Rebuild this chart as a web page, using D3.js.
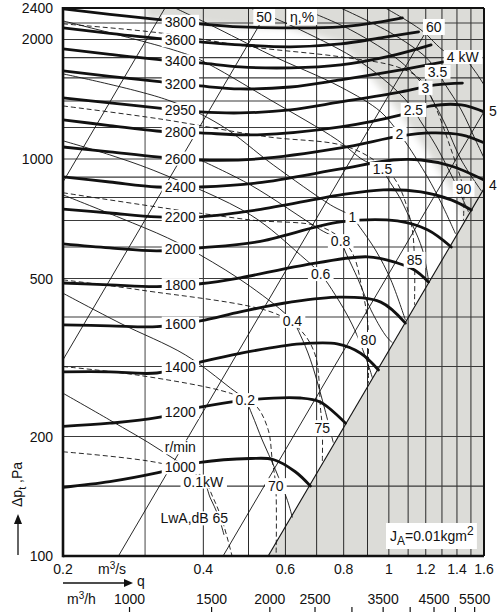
<!DOCTYPE html>
<html lang="en">
<head>
<meta charset="utf-8">
<script src="https://d3js.org/d3.v7.min.js"></script>
<style>
  body { margin: 0; background: #fff; }
  svg { display: block; font-family: "Liberation Sans", Arial, Helvetica, sans-serif; }
</style>
</head>
<body>
<svg id="chart" width="497" height="612"></svg>
<script>
// ---- data: [q m3/s, dp Pa] ----
const rpm3800 = [[0.2,2387],[0.252,2313],[0.318,2247],[0.394,2189],[0.48,2151],[0.615,2139],[0.788,2151],[0.961,2214],[1.069,2266]];
const rpm3600 = [[0.2,2139],[0.252,2071],[0.318,2012],[0.394,1972],[0.48,1938],[0.615,1916],[0.788,1949],[0.961,2018],[1.158,2090]];
const rpm3400 = [[0.2,1893],[0.252,1834],[0.318,1781],[0.394,1745],[0.48,1705],[0.615,1696],[0.788,1725],[1.01,1818],[1.232,1938]];
const rpm3200 = [[0.2,1666],[0.252,1614],[0.318,1568],[0.394,1527],[0.48,1501],[0.615,1518],[0.788,1582],[1.062,1676],[1.31,1755]];
const rpm2950 = [[0.2,1425],[0.252,1384],[0.318,1345],[0.394,1314],[0.48,1306],[0.615,1329],[0.788,1392],[1.062,1476],[1.259,1536],[1.438,1553]];
const rpm2800 = [[0.2,1254],[0.252,1214],[0.318,1176],[0.394,1163],[0.522,1150],[0.788,1204],[1.062,1291],[1.232,1360],[1.43,1368],[1.6,1314]];
const rpm2600 = [[0.2,1072],[0.252,1042],[0.318,1012],[0.394,994],[0.522,1000],[0.788,1066],[1.062,1143],[1.232,1163],[1.43,1150],[1.6,1098]];
const rpm2400 = [[0.2,901],[0.252,875],[0.318,850],[0.394,850],[0.522,870],[0.788,944],[1.023,994],[1.172,994],[1.361,960],[1.6,885]];
const rpm2200 = [[0.2,748],[0.252,731],[0.318,715],[0.394,715],[0.522,744],[0.788,812],[0.973,836],[1.172,826],[1.361,789],[1.503,744]];
const rpm2000 = [[0.2,611],[0.252,597],[0.318,587],[0.394,597],[0.522,618],[0.788,694],[1.043,698],[1.21,663],[1.361,600]];
const rpm1800 = [[0.2,487],[0.252,482],[0.318,477],[0.394,485],[0.48,502],[0.646,538],[0.9,567],[1.043,547],[1.135,525],[1.216,490]];
const rpm1600 = [[0.2,382],[0.252,380],[0.318,378],[0.394,391],[0.48,412],[0.615,436],[0.788,449],[0.961,436],[1.085,386]];
const rpm1400 = [[0.2,291],[0.252,291],[0.318,289],[0.394,308],[0.48,324],[0.646,342],[0.775,342],[0.87,324],[0.95,294]];
const rpm1200 = [[0.2,212],[0.252,216],[0.318,223],[0.394,237],[0.48,246],[0.646,250],[0.714,244],[0.807,216]];
const rpm1000 = [[0.2,149],[0.252,154],[0.318,162],[0.394,172],[0.505,176],[0.565,175],[0.63,163],[0.679,150]];

const rpmCurves = [
  {label:"3800", pts:rpm3800}, {label:"3600", pts:rpm3600}, {label:"3400", pts:rpm3400},
  {label:"3200", pts:rpm3200}, {label:"2950", pts:rpm2950}, {label:"2800", pts:rpm2800},
  {label:"2600", pts:rpm2600}, {label:"2400", pts:rpm2400}, {label:"2200", pts:rpm2200},
  {label:"2000", pts:rpm2000}, {label:"1800", pts:rpm1800}, {label:"1600", pts:rpm1600},
  {label:"1400", pts:rpm1400}, {label:"1200", pts:rpm1200}, {label:"1000", pts:rpm1000}
];

// shaft power lines, kW
const pw01 = [[0.2,257],[0.252,220],[0.323,185],[0.4,154],[0.414,140],[0.43,127],[0.443,113]];
const pw02 = [[0.2,459],[0.265,386],[0.366,321],[0.457,265],[0.492,247],[0.509,227],[0.535,196],[0.571,165],[0.606,138],[0.621,125]];
const pw04 = [[0.2,812],[0.265,711],[0.335,633],[0.394,573],[0.505,477],[0.621,391],[0.646,360],[0.679,312],[0.72,247],[0.76,193]];
const pw06 = [[0.2,1111],[0.252,1024],[0.323,922],[0.505,723],[0.646,573],[0.714,513],[0.768,454],[0.835,382],[0.9,307],[0.922,281]];
const pw08 = [[0.394,994],[0.505,860],[0.714,663],[0.788,621],[0.807,583],[0.86,496],[0.915,417],[0.983,360],[1.018,344]];
const pw1  = [[0.2,1638],[0.335,1408],[0.435,1218],[0.565,966],[0.75,766],[0.835,715],[0.86,682],[0.936,590],[1.01,496],[1.085,393]];
const pw15 = [[0.2,2227],[0.345,1882],[0.394,1776],[0.557,1408],[0.775,1117],[0.881,994],[0.969,944],[0.993,896],[1.062,789],[1.124,682],[1.181,590],[1.216,496]];
const pw2  = [[0.348,2400],[0.414,2176],[0.557,1829],[0.788,1518],[0.961,1314],[1.054,1156],[1.096,1085],[1.21,901],[1.295,775],[1.39,648]];
const pw25 = [[0.505,2400],[0.646,2114],[0.87,1755],[1.062,1450],[1.129,1329],[1.172,1240],[1.259,1085],[1.361,912],[1.482,736]];
const pw3  = [[0.646,2400],[0.828,2114],[1.062,1755],[1.198,1510],[1.241,1408],[1.323,1218],[1.43,994],[1.579,831]];
const pw35 = [[0.788,2400],[1.01,2077],[1.198,1808],[1.272,1657],[1.323,1536],[1.43,1329],[1.534,1117],[1.6,1006]];
const pw4  = [[0.983,2400],[1.172,2114],[1.323,1861],[1.44,1807],[1.534,1657],[1.6,1536]];

const powerLines = [
  {label:"0.1kW", pts:pw01, at:3}, {label:"0.2", pts:pw02, at:4}, {label:"0.4", pts:pw04, at:5},
  {label:"0.6", pts:pw06, at:5}, {label:"0.8", pts:pw08, at:3}, {label:"1", pts:pw1, at:5},
  {label:"1.5", pts:pw15, at:6}, {label:"2", pts:pw2, at:5}, {label:"2.5", pts:pw25, at:4},
  {label:"3", pts:pw3, at:3}, {label:"3.5", pts:pw35, at:3}, {label:"4 kW", pts:pw4, at:3}
];

// sound power LwA, dB (dashed)
const lw65 = [[0.2,183],[0.318,172],[0.394,160],[0.42,140],[0.439,123],[0.461,100]];
const lw70 = [[0.2,300],[0.292,285],[0.457,257],[0.517,240],[0.551,208],[0.562,175],[0.572,150],[0.573,100]];
const lw75 = [[0.2,496],[0.292,468],[0.565,410],[0.646,371],[0.695,321],[0.714,233],[0.72,210],[0.72,172]];
const lw80 = [[0.2,822],[0.318,757],[0.505,702],[0.724,671],[0.828,590],[0.877,468],[0.9,393],[0.904,350],[0.904,272]];
const lw85 = [[0.2,1360],[0.323,1261],[0.549,1137],[0.788,1085],[0.915,1006],[1.033,885],[1.116,690],[1.135,557],[1.135,429]];
const lw90 = [[0.2,2189],[0.323,2077],[0.505,1916],[0.788,1808],[1.043,1705],[1.172,1582],[1.259,1352],[1.361,1054],[1.43,885],[1.446,841],[1.446,702]];

const soundLines = [
  {label:"LwA,dB 65", pts:lw65, at:4}, {label:"70", pts:lw70, at:6}, {label:"75", pts:lw75, at:6},
  {label:"80", pts:lw80, at:7}, {label:"85", pts:lw85, at:7}, {label:"90", pts:lw90, at:9}
];

// efficiency / system parabolas (straight on log-log)
const sysA  = [[0.2,875],[0.331,2400]];
const sys50 = [[0.2,312],[0.54,2279]];
const sys60 = [[0.263,100],[1.218,2150]];
const sysB  = [[0.441,100],[1.6,1316]];
const limitLine = [[0.551,100],[1.6,842]];

// shaded areas
const grayTop = [[0.3,3000],[2,3000],[2,400],[1.5,600],[1.404,789],[1.295,919],[1.172,1098],[1.043,1329],[0.927,1582],[0.788,1961],[0.606,2139],[0.48,2151],[0.394,2189],[0.3,2265]];
const grayBottom = [[0.551,100],[2,1316],[2,50],[0.551,50]];

// grid and ticks
const qGrid = [0.3,0.4,0.5,0.6,0.7,0.8,0.9,1.0,1.1,1.2,1.3,1.4,1.5];
const pGrid = [150,200,300,400,500,600,700,800,900,1000,1200,1400,1600,1800,2000,2200];
const qTicks = [0.2,0.4,0.6,0.8,1,1.2,1.4,1.6];
const pTicks = [100,200,500,1000,2000,2400];
const hourTicks = [1000,1500,2000,2500,3000,3500,4000,4500,5000,5500];
const hourLabels = [1000,1500,2000,2500,3500,4500,5500];

// ---- drawing ----
const svg = d3.select("#chart");
const x = d3.scaleLog().domain([0.2, 1.6]).range([63, 484]);
const y = d3.scaleLog().domain([100, 2400]).range([556, 8]);
const FS = 14;

const curve = d3.line().x(d => x(d[0])).y(d => y(d[1])).curve(d3.curveCatmullRom.alpha(0.5));
const straight = d3.line().x(d => x(d[0])).y(d => y(d[1]));

const defs = svg.append("defs");
defs.append("clipPath").attr("id", "plotClip")
  .append("rect").attr("x", 63).attr("y", 8).attr("width", 421).attr("height", 548);
defs.append("filter").attr("id", "soft").attr("x", "-20%").attr("y", "-20%").attr("width", "140%").attr("height", "140%")
  .append("feGaussianBlur").attr("stdDeviation", 3.5);

const plot = svg.append("g").attr("clip-path", "url(#plotClip)");

plot.append("path").attr("d", straight(grayTop) + "Z").attr("fill", "#dcdcd8").attr("filter", "url(#soft)");
plot.append("path").attr("d", straight(grayBottom) + "Z").attr("fill", "#dcdcd8");

// grid
plot.selectAll(".vg").data(qGrid).enter().append("line")
  .attr("x1", d => x(d)).attr("x2", d => x(d)).attr("y1", y(100)).attr("y2", y(2400))
  .attr("stroke", d => d === 0.3 ? "#8a8a8a" : "#2a2a2a")
  .attr("stroke-width", d => d === 0.3 ? 1.6 : 1);
plot.selectAll(".hg").data(pGrid).enter().append("line")
  .attr("y1", d => y(d)).attr("y2", d => y(d)).attr("x1", x(0.2)).attr("x2", x(1.6))
  .attr("stroke", "#3a3a3a").attr("stroke-width", 1.1);

// straight system / efficiency lines
[sysA, sys50, sys60, sysB].forEach(s => {
  plot.append("path").attr("d", straight(s)).attr("fill", "none").attr("stroke", "#111").attr("stroke-width", 0.9);
});
plot.append("path").attr("d", straight(limitLine)).attr("fill", "none").attr("stroke", "#111").attr("stroke-width", 1.1);

// power lines
powerLines.forEach(p => {
  plot.append("path").attr("d", curve(p.pts)).attr("fill", "none").attr("stroke", "#111").attr("stroke-width", 0.9);
});
// sound lines
soundLines.forEach(s => {
  plot.append("path").attr("d", curve(s.pts)).attr("fill", "none").attr("stroke", "#111")
    .attr("stroke-width", 0.9).attr("stroke-dasharray", "5,3");
});
// fan curves
rpmCurves.forEach(c => {
  plot.append("path").attr("d", curve(c.pts)).attr("fill", "none").attr("stroke", "#111")
    .attr("stroke-width", 2.8).attr("stroke-linecap", "round");
});

// ---- labels with white boxes ----
const labels = svg.append("g").attr("font-size", FS).attr("fill", "#111");
function boxLabel(cx, cy, str, anchor, padX, padY) {
  const g = labels.append("g");
  const t = g.append("text").attr("x", cx).attr("y", cy).attr("dy", "0.36em")
    .attr("text-anchor", anchor || "middle").text(str);
  const b = t.node().getBBox();
  const px = padX == null ? 2 : padX, py = padY == null ? 0 : padY;
  g.insert("rect", "text").attr("x", b.x - px).attr("y", b.y + 1 - py)
    .attr("width", b.width + 2 * px).attr("height", b.height - 2 + 2 * py).attr("fill", "#fff");
  return g;
}

function pAt(pts, q) {
  for (let i = 0; i < pts.length - 1; i++) {
    const a = pts[i], b = pts[i + 1];
    if (q >= a[0] && q <= b[0]) {
      const t = (Math.log(q) - Math.log(a[0])) / (Math.log(b[0]) - Math.log(a[0]));
      return Math.exp(Math.log(a[1]) + t * (Math.log(b[1]) - Math.log(a[1])));
    }
  }
  return pts[pts.length - 1][1];
}

const rpmLabelQ = 0.357;
rpmCurves.forEach(c => boxLabel(x(rpmLabelQ), y(pAt(c.pts, rpmLabelQ)), c.label, "middle", 3, 0));
boxLabel(x(rpmLabelQ), y(pAt(rpm1000, rpmLabelQ)) - 20, "r/min", "middle", 2, 0);

powerLines.forEach(p => {
  const pt = p.pts[p.at];
  boxLabel(x(pt[0]), y(pt[1]), p.label, "middle", 3, 0);
});
soundLines.forEach((s, i) => {
  const pt = s.pts[s.at];
  if (i === 0) boxLabel(x(pt[0]) + 6, y(pt[1]) - 2, s.label, "end", 3, 0);
  else boxLabel(x(pt[0]), y(pt[1]), s.label, "middle", 3, 1);
});

const e50 = sys50[1], e60 = sys60[1];
boxLabel(x(e50[0]), y(e50[1]), "50", "middle", 3, 1);
boxLabel(x(e50[0]) + 38, y(e50[1]), "\u03b7,%", "middle", 3, 1);
boxLabel(x(e60[0]) + 5, y(e60[1]), "60", "middle", 3, 1);

// J_A box
{
  const g = labels.append("g");
  const t = g.append("text").attr("x", x(1.6) - 94).attr("y", y(100) - 15);
  t.append("tspan").text("J");
  t.append("tspan").attr("dy", 4).attr("font-size", 12).text("A");
  t.append("tspan").attr("dy", -4).text("=0.01kgm");
  t.append("tspan").attr("dy", -6).attr("font-size", 12).text("2");
  const b = t.node().getBBox();
  g.insert("rect", "text").attr("x", b.x - 4).attr("y", b.y - 1).attr("width", b.width + 7).attr("height", b.height + 2).attr("fill", "#fff");
}

// frame
const fr = svg.append("g").attr("stroke", "#111").attr("fill", "none");
fr.append("line").attr("x1", x(0.2)).attr("x2", x(1.6)).attr("y1", y(2400)).attr("y2", y(2400)).attr("stroke-width", 2);
fr.append("line").attr("x1", x(1.6)).attr("x2", x(1.6)).attr("y1", y(2400)).attr("y2", y(100)).attr("stroke-width", 2);
fr.append("line").attr("x1", x(0.2)).attr("x2", x(1.6)).attr("y1", y(100)).attr("y2", y(100)).attr("stroke-width", 2.6);
fr.append("line").attr("x1", x(0.2)).attr("x2", x(0.2)).attr("y1", y(2400) - 1).attr("y2", y(100) + 1.3).attr("stroke-width", 2.6);

// ---- axes text ----
const ax = svg.append("g").attr("font-size", FS).attr("fill", "#111");
ax.selectAll(".yt").data(pTicks).enter().append("text")
  .attr("x", 53).attr("y", d => y(d)).attr("dy", "0.36em").attr("text-anchor", "end").text(d => d);
ax.selectAll(".xt").data(qTicks).enter().append("text")
  .attr("x", d => x(d)).attr("y", 574).attr("text-anchor", "middle").text(d => d3.format("~g")(d));

const ms = ax.append("text").attr("x", 98).attr("y", 574);
ms.append("tspan").text("m");
ms.append("tspan").attr("dy", -5).attr("font-size", 10).text("3");
ms.append("tspan").attr("dy", 5).text("/s");

// q arrow
ax.append("line").attr("x1", x(0.2)).attr("x2", 126).attr("y1", 583).attr("y2", 583).attr("stroke", "#111").attr("stroke-width", 1.3);
ax.append("path").attr("d", "M124,579 L133,583 L124,587 Z").attr("fill", "#111");
ax.append("text").attr("x", 137).attr("y", 586).text("q");

// m3/h scale
const mh = ax.append("text").attr("x", 67).attr("y", 604);
mh.append("tspan").text("m");
mh.append("tspan").attr("dy", -5).attr("font-size", 10).text("3");
mh.append("tspan").attr("dy", 5).text("/h");
ax.selectAll(".ht").data(hourLabels).enter().append("text")
  .attr("x", d => x(d / 3600)).attr("y", 604).attr("text-anchor", "middle").text(d => d);
ax.selectAll(".hk").data(hourTicks).enter().append("line")
  .attr("x1", d => x(d / 3600)).attr("x2", d => x(d / 3600)).attr("y1", 607).attr("y2", 613)
  .attr("stroke", "#111").attr("stroke-width", 1.2);

// y axis title
ax.append("line").attr("x1", 18).attr("x2", 18).attr("y1", 555).attr("y2", 522).attr("stroke", "#111").attr("stroke-width", 1.3);
ax.append("path").attr("d", "M14,524 L18,514 L22,524 Z").attr("fill", "#111");
const yt = ax.append("text").attr("transform", "translate(22,507) rotate(-90)");
yt.append("tspan").text("\u0394p");
yt.append("tspan").attr("dy", 4).attr("font-size", 11).text("t");
yt.append("tspan").attr("dy", -4).text(" ,Pa");

// stray labels from the neighbouring chart at the right edge
ax.append("text").attr("x", x(1.6) + 5).attr("y", y(1320)).attr("dy", "0.36em").text("5");
ax.append("text").attr("x", x(1.6) + 5).attr("y", y(860)).attr("dy", "0.36em").text("4");
</script>
</body>
</html>
